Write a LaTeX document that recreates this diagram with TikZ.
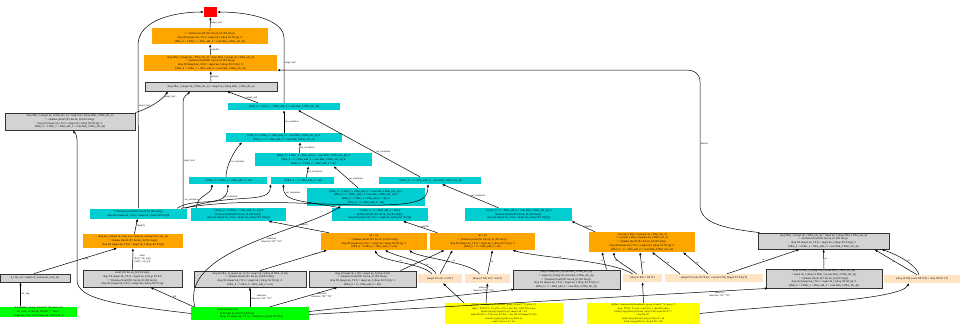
\documentclass[tikz,border=0pt]{standalone}
\usepackage{fontspec}
\setmainfont{Liberation Serif}
\newfontfamily\symfont{DejaVu Sans}
\usepackage{tikz}
\usetikzlibrary{arrows.meta,positioning,calc}

\definecolor{gvorange}{HTML}{FFA500}
\definecolor{gvcyan}{HTML}{00CED1}
\definecolor{gvgray}{HTML}{D3D3D3}
\definecolor{gvbisque}{HTML}{FFE4C4}
\definecolor{gvgreen}{HTML}{00FF00}
\definecolor{gvyellow}{HTML}{FFFF00}
\definecolor{gvred}{HTML}{FF0000}

\newcommand{\sOr}{{\symfont ∨}}
\newcommand{\sNeg}{{\symfont ¬}}
\newcommand{\sAll}{{\symfont ∀}}
\newcommand{\sTo}{{\symfont →}}
\newcommand{\sImp}{{\symfont ⇒}}
\newcommand{\sTurn}{{\symfont ⊢}}
\newcommand{\sNeq}{{\symfont ≠}}
\newcommand{\sBot}{{\symfont ⊥}}
\newcommand{\lemtxt}{\^{}(lemma (forall (X1 list nk\_fri (X2 fun))).}
\newcommand{\droptxt}{drop X2 (map2 nk\_f X1) = map2 nk\_f (drop X2 X1))))}
\newcommand{\caseA}{[\#flat\_0 = 5 \#flat\_1 + \#flat\_add\_2 = cons \#lab\_3 \#flat\_idx\_4)]}
\newcommand{\caseB}{[\#flat\_0 = 2 + \#flat\_add\_2 = cons \#lab\_3 \#flat\_idx\_4)]}
\newcommand{\caseC}{[\#flat\_0 = 5 \#flat\_1 + \#flat\_add\_2 = nil]}
\newcommand{\caseD}{[\#flat\_0 = 2 + \#flat\_add\_2 = nil]}

\begin{document}
\begin{tikzpicture}[
    x=1pt, y=-1pt,
    box/.style={inner sep=0.5pt, align=center, font=\fontsize{2.8}{3.7}\selectfont},
    wh/.style 2 args={minimum width=#1pt, minimum height=#2pt},
    goal/.style={box, fill=gvred},
    orng/.style={box, fill=gvorange},
    cyn/.style={box, fill=gvcyan},
    gry/.style={box, fill=gvgray, draw=black!80, line width=0.8pt},
    axm/.style={box, fill=gvbisque},
    yel/.style={box, fill=gvyellow, font=\fontsize{2.45}{3.4}\selectfont},
    grn/.style={box, fill=gvgreen},
    edge/.style={-{Latex[length=3pt,width=2.4pt]}, line width=0.5pt},
    elabel/.style={font=\fontsize{2.5}{3}\selectfont, inner sep=0.6pt, align=center}
]
\useasboundingbox (0,0) rectangle (961,324);

% goal and main trail
\node[goal, wh={13}{10}] (r) at (210.5,12) {\sBot};
\node[orng, wh={116}{16}] (o1) at (210,36) {\sTurn\\ \sTurn\ \lemtxt\\ \droptxt\ \sImp\\ \caseA};
\node[orng, wh={133}{16}] (o2) at (210.5,63) {drop \#flat\_1 (map2 nk\_f \#flat\_idx\_4) = drop \#flat\_1 (map2 nk\_f \#flat\_idx\_4)\\ = \lemtxt\\ \droptxt\ \sImp\\ \caseA};
\node[gry, wh={132}{9}] (g1) at (211,86.5) {drop \#flat\_1 (map2 nk\_f \#flat\_idx\_4) = map2 nk\_f (drop \#flat\_1 \#flat\_idx\_4)};
\node[gry, wh={130}{17}] (g2) at (70,121.5) {drop \#flat\_1 (map2 nk\_f \#flat\_idx\_4) = map2 nk\_f (drop \#flat\_1 \#flat\_idx\_4)\\ = \lemtxt\\ \droptxt\ \sImp\\ \caseA};

% sat resolution
\node[cyn, wh={112}{7}] (c1) at (284,106.5) {\caseA};
\node[cyn, wh={116}{9}] (c2) at (284,137.5) {\caseA\ \sOr\\ \caseB};
\node[cyn, wh={117}{13}] (c3) at (313.5,159.5) {\caseA\ \sOr\\ \caseB\ \sOr\\ \caseC};
\node[cyn, wh={78}{7}] (c4) at (228,180.5) {\sNeg\caseC};
\node[cyn, wh={63}{7}] (c5) at (302.5,180.5) {\sNeg\caseD};
\node[cyn, wh={102}{7}] (c6) at (430,180.5) {\sNeg\caseB};
\node[cyn, wh={118}{18}] (c7) at (366,197) {\caseA\ \sOr\\ \caseB\ \sOr\\ \caseC\ \sOr\\ \caseD};
\node[cyn, wh={97}{10}] (c8) at (138.5,213.5) {\sNeg\lemtxt\\ \droptxt};
\node[cyn, wh={95}{13}] (c9) at (238.5,214.5) {\sNeg\caseC\ \sOr\\ {[}lemma (forall (X1 list nk\_fri (X2 fun))).\\ \droptxt{]}};
\node[cyn, wh={96}{13}] (c10) at (380,214.5) {\sNeg\caseD\ \sOr\\ {[}lemma (forall (X1 list nk\_fri (X2 fun))).\\ \droptxt{]}};
\node[cyn, wh={107}{13}] (c11) at (518.5,214.5) {\sNeg\caseB\ \sOr\\ {[}lemma (forall (X1 list nk\_fri (X2 fun))).\\ \droptxt{]}};

% simplified cases
\node[orng, wh={100}{14}] (o3) at (133,241) {drop nk\_n (map2 nk\_f nk\_xs) = drop nk\_n (map2 nk\_f nk\_xs)\\ = \lemtxt\\ \droptxt};
\node[orng, wh={106}{17}] (o4) at (374,241.5) {nil = nil\\ = \lemtxt\\ \droptxt\ \sImp\\ \caseC};
\node[orng, wh={105}{17}] (o5) at (482.5,241.5) {nil = nil\\ = \lemtxt\\ \droptxt\ \sImp\\ \caseD};
\node[orng, wh={106}{20}] (o6) at (642,242) {cons (nk\_f \#lab\_3) (map2 nk\_f \#flat\_idx\_4)\\ = cons (nk\_f \#lab\_3) (map2 nk\_f \#flat\_idx\_4)\\ = \lemtxt\\ \droptxt\ \sImp\\ \caseB};
\node[gry, wh={131}{16}] (g9) at (823.5,241) {drop \#flat\_1 (map2 nk\_f \#flat\_idx\_4) = map2 nk\_f (drop \#flat\_1 \#flat\_idx\_4)\\ = \lemtxt\\ \droptxt\ \sImp\\ \caseA};

% induction cases
\node[gry, wh={70}{8}] (g3) at (35,278) {k\_f nk\_xs) = map2 nk\_f (drop nk\_n nk\_xs)};
\node[gry, wh={99}{17}] (g4) at (132.5,278.5) {forall (X1 list nk\_fri (X2 fun)).\\ drop X2 (map2 nk\_f X1) = map2 nk\_f (drop X2 X1)\\ = \lemtxt\\ \droptxt};
\node[gry, wh={112}{16}] (g5) at (250,279) {drop (S \#flat\_1) (map2 nk\_f nil) = map2 nk\_f (drop (S \#flat\_1) nil)\\ = \lemtxt\\ \droptxt\ \sImp\\ \caseC};
\node[gry, wh={107}{16}] (g6) at (362.5,279) {drop Z (map2 nk\_f nil) = map2 nk\_f (drop Z nil)\\ = \lemtxt\\ \droptxt\ \sImp\\ \caseD};
\node[gry, wh={107}{19}] (g7) at (566.5,279.5) {drop Z (map2 nk\_f (cons \#lab\_3 \#flat\_idx\_4))\\ = map2 nk\_f (drop Z (cons \#lab\_3 \#flat\_idx\_4))\\ = \lemtxt\\ \droptxt\ \sImp\\ \caseB};
\node[gry, wh={116}{19}] (g8) at (824,278.5) {drop (S \#flat\_1) (map2 nk\_f (cons \#lab\_3 \#flat\_idx\_4))\\ = map2 nk\_f (drop (S \#flat\_1) (cons \#lab\_3 \#flat\_idx\_4))\\ = \lemtxt\\ \droptxt\ \sImp\\ \caseA};

% rewrite rules
\node[axm, wh={44}{9}] (p1) at (440,278.5) {(map2 F2 nil) = nil [T]};
\node[axm, wh={45}{9}] (p2) at (487.5,278.5) {(drop (S X0) nil) = nil [T]};
\node[axm, wh={39}{8}] (p3) at (642.5,278) {(drop Z X0) = X0 [T]};
\node[axm, wh={98}{8}] (p4) at (714,278) {(map2 F2 (cons X3 X4)) = cons (F2 X3) (map2 F2 X4) [T]};
\node[axm, wh={76}{8}] (p5) at (922,279) {(drop (S X6) (cons X8 X7)) = drop X6 X7 [T]};

% inputs
\node[yel, wh={118}{21}] (y1) at (504,313.5) {thf(thm "examples/build/explainer\_group\_12.smt2" "tf\_atom\_2")\\ map2 : \sAll\ (T0 T1 : T). ((T0 \sTo\ T1) \sTo\ (list T0) \sTo\ (list T1)) where\\ forall (x:type)(y:type)(f:x\sTo y). map2 f nil = nil.\\ map2 (F2:(T0 \sTo\ T1)) (cons X3 X4) = cons (F2 X3) (map2 F2 X4).\\ forall (x:type)(y:type)(f:x\sTo y)(l:list x).\\ map2 f (cons x l) = nil.};
\node[yel, wh={113}{21}] (y2) at (643.5,313.5) {thf(thm "examples/build/explainer\_group\_12.smt2" "tf\_atom\_3")\\ drop : \sAll\ (T0 : T). (nat \sTo\ (list T0) \sTo\ (list T0)) where\\ forall (x:type)(l:list x)(X:nat). drop (S X6) (cons X8 X7) =\\ drop X6 X7.\\ forall (x:type)(X:nat). drop (S X0) nil = nil.\\ forall (x:type)(l:list x). drop Z X0 = X0.};
\node[grn, wh={77}{10}] (gl) at (38.5,312) {al/explainer\_group\_12.smt2" "tf\_atom\_0")\\ nk\_n nk\_xs (list nk\_fri) (nk\_f : fun) =\\ (map2 nk\_f nk\_xs) \sNeq\ map2 nk\_f (drop nk\_n};
\node[grn, wh={118}{13}, align=left] (gb) at (250,313.5) {lemma (induction)\\ \quad \sAll\ X2:(list nk\_fri) X1:(X2 fun).\\ \quad (drop X2 (map2 nk\_f X1)) = (map2 nk\_f (drop X2 X1))};

% edges to the goal
\draw[edge] (o1) -- node[elabel, right] {simpl\_trail} (r);
\draw[edge] (c1.north) -- node[elabel, right, pos=.62] {simpl\_trail} (284,38) .. controls (284,20) and (250,12) .. (r.east);
\draw[edge] (c8.north) -- node[elabel, right, pos=.63] {simpl\_trail} (138,45) .. controls (138,20) and (175,12) .. (r.west);
\draw[edge] (o2) -- node[elabel, right] {simplify} (o1);
\draw[edge] (g1) -- node[elabel, right] {demod} (o2);
\draw[edge] (g2.north east) .. controls (150,108) and (162,100) .. node[elabel, right, pos=.8] {simpl\_trail} ([xshift=-43pt]g1.south);
\draw[edge] ([xshift=-4pt]c8.north east) -- node[elabel, right, pos=.45] {simpl\_trail} (183,102) .. controls (183,96) and (188,94) .. ([xshift=-21pt]g1.south);
\draw[edge] ([xshift=-26pt]c1.north) -- node[elabel, right, pos=.4] {simpl\_trail} ([xshift=16pt]g1.south);
\draw[edge] ([xshift=2pt]g9.north west) .. controls (720,228) and (700,222) .. (700,205) -- node[elabel, right] {demod} (700,82) .. controls (700,74) and (695,70) .. (685,70) -- ([yshift=1pt]o2.south east);

% resolution steps
\draw[edge] (c2) -- node[elabel, right] {sat\_resolution} (c1);
\draw[edge] ([xshift=-10pt]c6.north) -- node[elabel, pos=.3, above=3pt] {sat\_resolution} ([xshift=14pt]c1.south);
\draw[edge] ([xshift=-2pt]c4.north) .. controls (226,165) and (235,150) .. node[elabel, right, pos=.4] {sat\_resolution} ([xshift=-42pt]c2.south);
\draw[edge] ([xshift=-14pt]c3.north) -- node[elabel, right] {sat\_resolution} ([xshift=16pt]c2.south);
\draw[edge] ([xshift=4pt]c5.north) -- node[elabel, right] {sat\_resolution} ([xshift=-5pt]c3.south);
\draw[edge] ([xshift=-8pt]c7.north) -- node[elabel, right, pos=.4] {sat\_resolution} ([xshift=20pt]c3.south);
\draw[edge] ([xshift=-42pt]c9.north) .. controls (196,196) and (212,194) .. node[elabel, left, pos=.3] {sat\_resolution} ([xshift=-16pt]c4.south);
\draw[edge] ([xshift=-10pt]c8.north east) .. controls (195,196) and (228,210) .. node[elabel, right, pos=.75] {sat\_resolution} (c4.south);
\draw[edge] ([xshift=-2pt]c8.north east) .. controls (235,192) and (270,205) .. ([xshift=-32pt]c5.south);
\draw[edge] ([xshift=-40pt]c10.north) .. controls (300,200) and (283,202) .. node[elabel, right, pos=.8] {sat\_resolution} ([xshift=-19pt]c5.south);
\draw[edge] ([xshift=-6pt]c8.north east) .. controls (240,198) and (300,204) .. (360,205) .. controls (420,206) and (428,200) .. ([xshift=-2pt]c6.south);
\draw[edge] ([xshift=-20pt]c11.north) -- node[elabel, right] {sat\_resolution} ([xshift=12pt]c6.south);

% simplifications
\draw[edge] (o3) -- node[elabel, right] {simplify} (c8);
\draw[edge] ([xshift=-45pt]o4.north) -- node[elabel, above right] {simplify} ([xshift=30pt]c9.south);
\draw[edge] ([xshift=-45pt]o5.north) -- node[elabel, right] {simplify} ([xshift=23pt]c10.south);
\draw[edge] ([xshift=-47pt]o6.north) -- node[elabel, right] {simplify} ([xshift=53pt]c11.south);

% rewriting
\draw[edge] ([xshift=-1pt]g3.north) -- node[elabel, pos=.62, below] {a\_sup} ([xshift=-16pt]o3.south);
\draw[edge] (g4) -- node[elabel, right] {subst\\ \{X1[] = nk\_xs[]\}\\ \{X2[] = nk\_n[]\}} (o3);
\draw[edge] ([xshift=10pt]g5.north) -- node[elabel, pos=.8, right] {rw} ([xshift=-47pt]o4.south);
\draw[edge] ([xshift=-8pt]p1.north) .. controls (420,262) and (380,262) .. node[elabel, pos=.5, above] {rw} ([xshift=1pt]o4.south);
\draw[edge] ([xshift=-4pt]p1.north) .. controls (430,262) and (400,258) .. node[elabel, pos=.3, right] {rw} ([xshift=11pt]o4.south);
\draw[edge] ([xshift=38pt]g6.north) -- ([xshift=-38pt]o5.south);
\draw[edge] (p1.north) -- node[elabel, right] {rw} ([xshift=-30pt]o5.south);
\draw[edge] ([xshift=-8pt]p2.north) .. controls (470,262) and (420,258) .. node[elabel, pos=.4, above] {rw} ([xshift=35pt]o4.south);
\draw[edge] (p2.north) -- node[elabel, right] {rw} ([xshift=10pt]o5.south);
\draw[edge] ([xshift=-10pt]p3.north) .. controls (610,260) and (540,258) .. node[elabel, pos=.6, above] {rw} ([xshift=30pt]o5.south);
\draw[edge] ([xshift=40pt]g7.north) -- node[elabel, left] {rw} ([xshift=-40pt]o6.south);
\draw[edge] ([xshift=-6pt]p3.north) .. controls (625,265) and (614,260) .. node[elabel, left, pos=.6] {rw} ([xshift=-28pt]o6.south);
\draw[edge] (p3.north) -- node[elabel, right] {rw} ([xshift=-2pt]o6.south);
\draw[edge] ([xshift=-34pt]p4.north) -- node[elabel, right] {rw} ([xshift=10pt]o6.south);
\draw[edge] ([xshift=-6pt]p4.north) -- node[elabel, right] {rw} ([xshift=41pt]o6.south);
\draw[edge] ([xshift=13pt]p4.north) -- node[elabel, above] {rw} ([xshift=-24pt]g9.south);
\draw[edge] (g8) -- node[elabel, right] {rw} (g9);
\draw[edge] ([xshift=-5pt]p5.north) -- node[elabel, left] {rw} ([xshift=51pt]g9.south);
\draw[edge] ([xshift=-3pt]p5.north) .. controls (915,262) and (890,252) .. node[elabel, right, pos=.4] {rw} ([xshift=58pt]g9.south);

% induction and inputs
\draw[edge] ([xshift=-18pt]gl.north) -- node[elabel, right] {cnf\_neg} ([xshift=-14.5pt]g3.south);
\draw[edge] (gb.west) .. controls (120,305) and (77,300) .. (77,280) -- (77,140) .. controls (77,134) and (74,132) .. ([xshift=3pt]g2.south);
\draw[edge] ([xshift=3pt]gb.north west) -- node[elabel, right] {ind} ([xshift=18pt]g4.south);
\draw[edge] (gb.north) -- node[elabel, right] {induction\\ induction "X2" "X1"} (g5.south);
\draw[edge] ([xshift=20pt]gb.north) -- node[elabel, right, pos=.6] {induction\\ induction "X2" "X1"} ([xshift=-25pt]g6.south);
\draw[edge] ([xshift=4pt]gb.north west) .. controls (180,250) and (300,232) .. node[elabel, pos=.55, right=3pt] {induction\\ induction "X2" "X1"} ([xshift=-25pt]c7.south);
\draw[edge] ([yshift=2pt]gb.east) -- node[elabel, pos=.85, above] {induction\\ induction "X2" "X1"} ([xshift=-52pt]g7.south);
\draw[edge] ([yshift=-1pt]gb.east) -- node[elabel, pos=.92, below left] {induction\\ induction "X2" "X1"} ([xshift=-56pt]g8.south);
\draw[edge] ([xshift=-40pt]y1.north) -- ([xshift=3pt]p1.south);
\draw[edge] ([xshift=-18pt]y1.north) -- (p2.south);
\draw[edge] (y2.north) -- (p3.south);
\draw[edge] (y2.east) .. controls (780,305) and (900,300) .. ([xshift=-13pt]p5.south);

\end{tikzpicture}
\end{document}
